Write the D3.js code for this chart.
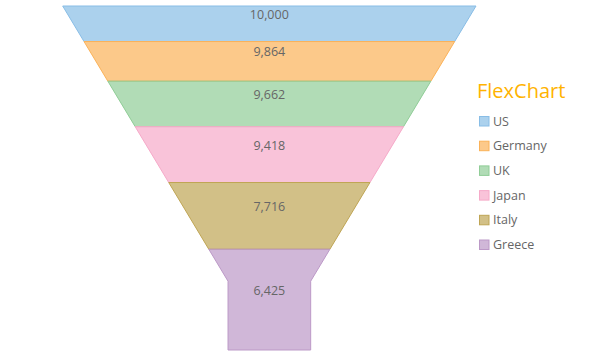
<!DOCTYPE html>
<html lang="en">
    <head>
        <meta charset="UTF-8" />
        <title>FlexChart funnel</title>
        <style>
            body { margin: 0; background: #fff; }
            text { font-family: "Open Sans", "Noto Sans", sans-serif; }
        </style>
    </head>
    <body>
        <div id="funnel-chart"></div>

        <script src="https://d3js.org/d3.v7.min.js"></script>
        <script>
            // data
            var countries = ["US", "Germany", "UK", "Japan", "Italy", "Greece"];
            var sales = [10000, 9864, 9662, 9418, 7716, 6425];
            var colors = ["#88bde6", "#fbb258", "#90cd97", "#f6aac9", "#bfa554", "#bc99c7"];

            var width = 600, height = 360;
            var neckWidth = 0.2, neckHeight = 0.2;

            var svg = d3.select("#funnel-chart")
              .append("svg")
                .attr("width", width)
                .attr("height", height);

            // x: fraction of top width (centered), y: fraction of funnel height
            var x = d3.scaleLinear().domain([-0.5, 0.5]).range([62.7, 476]);
            var y = d3.scaleLinear().domain([0, 1]).range([6, 350]);

            var ht = 1 - neckHeight;
            function widthAt(t) {
                return t <= ht ? 1 - (1 - neckWidth) * t / ht : neckWidth;
            }
            var k = (1 - neckWidth) / (2 * ht);
            var topArea = (1 + neckWidth) / 2 * ht;
            var totalArea = topArea + neckWidth * neckHeight;

            // depth where the cumulative area reaches a
            function depthOf(a) {
                if (a <= topArea) return (1 - Math.sqrt(1 - 4 * k * a)) / (2 * k);
                return ht + (a - topArea) / neckWidth;
            }

            var sum = d3.sum(sales);
            var cum = 0;
            var segs = sales.map(function(v, i) {
                var t0 = depthOf(cum / sum * totalArea);
                cum += v;
                var t1 = i == sales.length - 1 ? 1 : depthOf(cum / sum * totalArea);
                return {name: countries[i], value: v, color: colors[i], t0: t0, t1: t1};
            });

            var line = d3.line().curve(d3.curveLinearClosed);
            function shape(d) {
                var ts = [d.t0];
                if (d.t0 < ht && d.t1 > ht) ts.push(ht);
                ts.push(d.t1);
                var right = ts.map(function(t) { return [x(widthAt(t) / 2), y(t)]; });
                var left = ts.slice().reverse().map(function(t) { return [x(-widthAt(t) / 2), y(t)]; });
                return line(right.concat(left));
            }

            svg.selectAll(".seg")
              .data(segs)
              .enter()
              .append("path")
                .attr("class", "seg")
                .attr("d", shape)
                .attr("fill", function(d) { return d.color; })
                .attr("fill-opacity", 0.7)
                .attr("stroke", function(d) { return d.color; })
                .attr("stroke-width", 1);

            // labels sit just above the segment middle
            svg.selectAll(".lbl")
              .data(segs)
              .enter()
              .append("text")
                .attr("class", "lbl")
                .attr("x", x(0))
                .attr("y", function(d) { return (y(d.t0) + y(d.t1)) / 2 - 5; })
                .attr("text-anchor", "middle")
                .attr("font-size", "12.5px")
                .attr("fill", "#666")
                .text(function(d) { return d3.format(",")(d.value); });

            // legend
            svg.append("text")
                .attr("x", 477)
                .attr("y", 98)
                .attr("font-size", "20px")
                .attr("fill", "#ffb300")
                .text("FlexChart");

            var legend = svg.selectAll(".leg")
              .data(segs)
              .enter()
              .append("g")
                .attr("class", "leg")
                .attr("transform", function(d, i) { return "translate(479," + (121 + i * 24.7) + ")"; });

            legend.append("rect")
                .attr("x", 0.5)
                .attr("y", -4.5)
                .attr("width", 9.5)
                .attr("height", 9.5)
                .attr("fill", function(d) { return d.color; })
                .attr("fill-opacity", 0.7)
                .attr("stroke", function(d) { return d.color; });

            legend.append("text")
                .attr("x", 14)
                .attr("y", 4.5)
                .attr("font-size", "12.5px")
                .attr("fill", "#666")
                .text(function(d) { return d.name; });
        </script>
    </body>
</html>
